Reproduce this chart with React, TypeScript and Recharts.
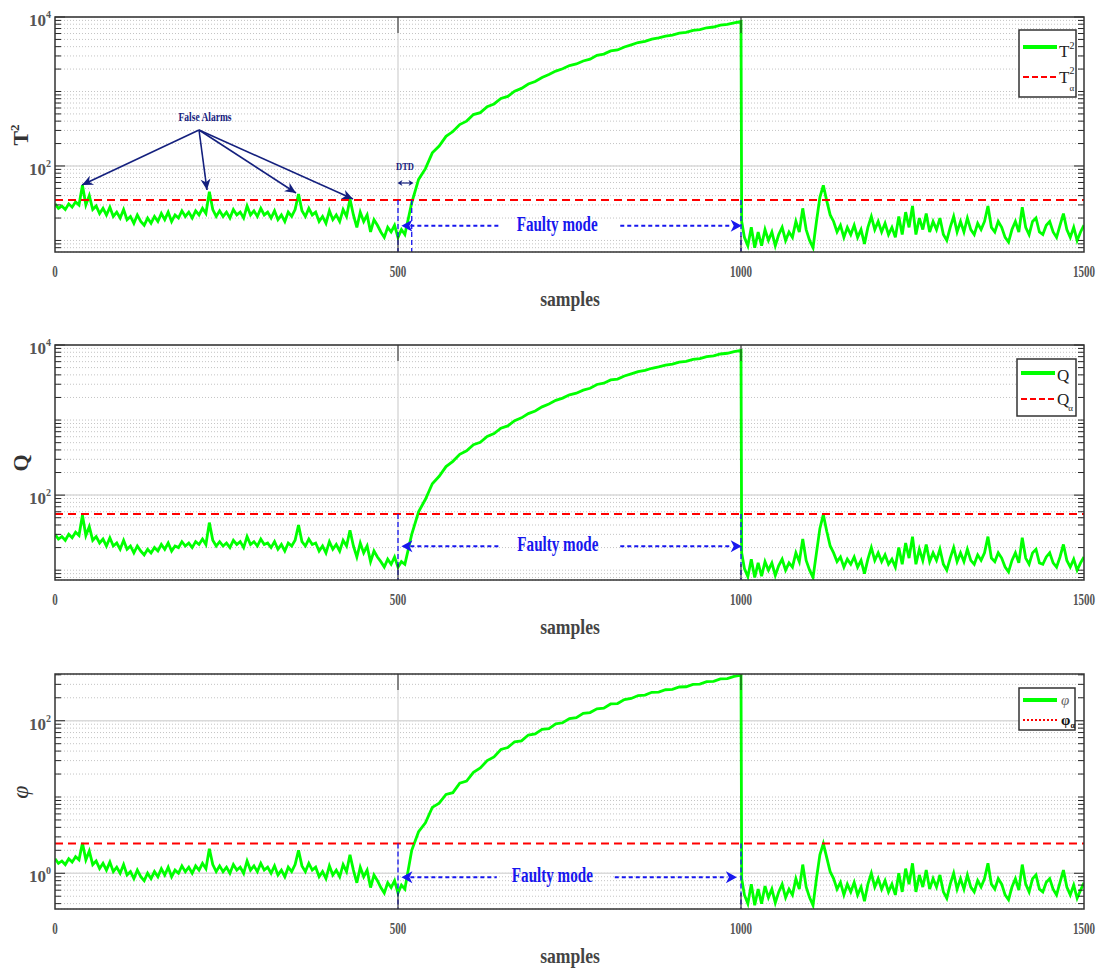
import React from "react"
import { LineChart, Line, XAxis, YAxis, CartesianGrid, ReferenceLine, ReferenceDot } from "recharts"

// every 5th sample in the quiet parts, every 10th on the fault ramp, plus the step right after the fault is removed
const samples = [
  0, 5, 10, 15, 20, 25, 30, 35, 40, 45,
  50, 55, 60, 65, 70, 75, 80, 85, 90, 95,
  100, 105, 110, 115, 120, 125, 130, 135, 140, 145,
  150, 155, 160, 165, 170, 175, 180, 185, 190, 195,
  200, 205, 210, 215, 220, 225, 230, 235, 240, 245,
  250, 255, 260, 265, 270, 275, 280, 285, 290, 295,
  300, 305, 310, 315, 320, 325, 330, 335, 340, 345,
  350, 355, 360, 365, 370, 375, 380, 385, 390, 395,
  400, 405, 410, 415, 420, 425, 430, 435, 440, 445,
  450, 455, 460, 465, 470, 475, 480, 485, 490, 495,
  500, 505, 510,
  520, 530, 540, 550, 560, 570, 580, 590, 600, 610,
  620, 630, 640, 650, 660, 670, 680, 690, 700, 710,
  720, 730, 740, 750, 760, 770, 780, 790, 800, 810,
  820, 830, 840, 850, 860, 870, 880, 890, 900, 910,
  920, 930, 940, 950, 960, 970, 980, 990, 1000,
  1001,
  1005, 1010, 1015, 1020, 1025, 1030, 1035, 1040, 1045, 1050,
  1055, 1060, 1065, 1070, 1075, 1080, 1085, 1090, 1095, 1100,
  1105, 1110, 1115, 1120, 1125, 1130, 1135, 1140, 1145, 1150,
  1155, 1160, 1165, 1170, 1175, 1180, 1185, 1190, 1195, 1200,
  1205, 1210, 1215, 1220, 1225, 1230, 1235, 1240, 1245, 1250,
  1255, 1260, 1265, 1270, 1275, 1280, 1285, 1290, 1295, 1300,
  1305, 1310, 1315, 1320, 1325, 1330, 1335, 1340, 1345, 1350,
  1355, 1360, 1365, 1370, 1375, 1380, 1385, 1390, 1395, 1400,
  1405, 1410, 1415, 1420, 1425, 1430, 1435, 1440, 1445, 1450,
  1455, 1460, 1465, 1470, 1475, 1480, 1485, 1490, 1495, 1500,
]

const t2Values = [
  31, 27, 29, 26, 31, 28, 33, 30, 55, 30,
  40, 26, 29, 23, 27, 22, 28, 21, 24, 20,
  26, 19, 21, 17, 22, 18, 16, 20, 17, 21,
  18, 23, 19, 24, 18, 22, 20, 25, 21, 24,
  20, 25, 22, 27, 23, 45, 26, 21, 25, 21,
  24, 20, 26, 22, 24, 20, 29, 22, 25, 21,
  27, 22, 24, 20, 25, 19, 22, 18, 24, 21,
  26, 42, 25, 21, 27, 22, 24, 18, 21, 17,
  25, 19, 22, 18, 26, 21, 36, 22, 15, 24,
  18, 22, 13, 19, 16, 13, 11, 15, 13, 16,
  11, 14, 12,
  32, 66, 92, 150, 185, 250, 290, 360, 400, 490,
  520, 625, 680, 805, 860, 1010, 1100, 1260, 1360, 1540,
  1690, 1880, 2020, 2230, 2340, 2570, 2720, 3060, 3180, 3510,
  3610, 3960, 4230, 4540, 4710, 5030, 5230, 5530, 5710, 6060,
  6200, 6610, 6750, 7170, 7340, 7770, 7940, 8360, 8700,
  18,
  11, 8.5, 15, 8, 13, 8.5, 14, 10, 13, 8.5,
  12, 15, 10, 13, 11, 18, 13, 27, 14, 10,
  8, 18, 38, 55, 34, 22, 18, 13, 16, 11,
  15, 12, 16, 11, 14, 9, 15, 21, 14, 18,
  13, 17, 12, 15, 11, 21, 12, 24, 15, 29,
  12, 20, 14, 23, 13, 18, 14, 20, 12, 10,
  15, 21, 13, 18, 13, 20, 14, 12, 17, 14,
  18, 29, 15, 13, 18, 15, 11, 9.5, 14, 18,
  13, 28, 15, 12, 18, 20, 13, 12, 16, 18,
  13, 11, 16, 23, 14, 11, 15, 10, 13, 16,
]

const qValues = [
  30, 26, 28, 25, 30, 27, 32, 29, 54, 29,
  38, 25, 28, 23, 26, 21, 27, 21, 23, 19,
  25, 19, 21, 17, 21, 18, 16, 19, 17, 20,
  18, 22, 19, 23, 18, 21, 20, 24, 21, 23,
  20, 24, 22, 26, 22, 43, 25, 21, 24, 21,
  23, 20, 25, 22, 24, 20, 28, 22, 24, 21,
  26, 22, 23, 20, 24, 19, 22, 18, 23, 21,
  25, 40, 24, 21, 26, 22, 23, 18, 21, 17,
  24, 19, 22, 18, 25, 21, 34, 21, 15, 23,
  17, 21, 13, 18, 15, 13, 11, 14, 12, 15,
  11, 13, 12,
  30, 60, 88, 142, 178, 240, 282, 350, 390, 470,
  505, 605, 660, 780, 835, 980, 1070, 1220, 1320, 1500,
  1640, 1830, 1960, 2170, 2280, 2500, 2650, 2980, 3100, 3420,
  3520, 3860, 4120, 4420, 4590, 4900, 5100, 5400, 5570, 5910,
  6050, 6450, 6590, 7000, 7170, 7590, 7760, 8170, 8450,
  17,
  10.5, 8.2, 14, 8, 12.5, 8.3, 13, 10, 12.5, 8.5,
  11.5, 14, 10, 12.5, 11, 17, 13, 26, 13.5, 10,
  8, 17, 36, 55, 33, 21, 17, 13, 15, 11,
  14, 12, 15, 11, 13.5, 9, 14, 20, 13.5, 17,
  13, 16, 12, 14, 11, 20, 12, 23, 14.5, 28,
  12, 19, 13.5, 22, 13, 17, 13.5, 19, 12, 10,
  14.5, 20, 13, 17, 13, 19, 13.5, 12, 16, 13.5,
  17, 28, 14.5, 13, 17, 14.5, 11, 9.5, 13.5, 17,
  12.5, 27, 14.5, 12, 17, 19, 12.5, 12, 15, 17,
  12.5, 11, 15, 22, 13.5, 11, 14, 10, 12.5, 15,
]

const phiValues = [
  1.55, 1.35, 1.45, 1.3, 1.55, 1.4, 1.65, 1.5, 2.5, 1.5,
  1.95, 1.3, 1.45, 1.15, 1.35, 1.1, 1.4, 1.05, 1.2, 1.0,
  1.3, 0.95, 1.05, 0.85, 1.1, 0.9, 0.8, 1.0, 0.85, 1.05,
  0.9, 1.15, 0.95, 1.2, 0.9, 1.1, 1.0, 1.25, 1.05, 1.2,
  1.0, 1.25, 1.1, 1.35, 1.15, 2.1, 1.3, 1.05, 1.25, 1.05,
  1.2, 1.0, 1.3, 1.1, 1.2, 1.0, 1.45, 1.1, 1.25, 1.05,
  1.35, 1.1, 1.2, 1.0, 1.25, 0.95, 1.1, 0.9, 1.2, 1.05,
  1.3, 2.0, 1.25, 1.05, 1.35, 1.1, 1.2, 0.9, 1.05, 0.85,
  1.25, 0.95, 1.1, 0.9, 1.3, 1.05, 1.75, 1.1, 0.75, 1.2,
  0.9, 1.1, 0.65, 0.95, 0.8, 0.65, 0.55, 0.75, 0.65, 0.8,
  0.55, 0.7, 0.62,
  2.0, 3.5, 4.6, 7.3, 8.3, 10.8, 11.4, 15.2, 16.2, 21,
  24, 30, 33.5, 42, 44.5, 53, 54.5, 65, 67, 77,
  79, 91, 94, 107, 110, 125, 128, 143, 146, 166,
  168, 189, 196, 214, 217, 236, 237, 255, 258, 277,
  279, 300, 302, 325, 329, 353, 357, 382, 395,
  0.85,
  0.52, 0.4, 0.72, 0.38, 0.62, 0.4, 0.68, 0.48, 0.62, 0.41,
  0.57, 0.72, 0.48, 0.62, 0.52, 0.85, 0.62, 1.3, 0.66, 0.48,
  0.38, 0.85, 1.75, 2.45, 1.6, 1.05, 0.85, 0.62, 0.76, 0.52,
  0.72, 0.57, 0.76, 0.52, 0.66, 0.43, 0.72, 1.0, 0.66, 0.85,
  0.62, 0.8, 0.57, 0.72, 0.52, 1.0, 0.57, 1.15, 0.72, 1.35,
  0.57, 0.95, 0.66, 1.1, 0.62, 0.85, 0.66, 0.95, 0.57, 0.47,
  0.72, 1.0, 0.62, 0.85, 0.62, 0.95, 0.66, 0.57, 0.8, 0.66,
  0.85, 1.35, 0.72, 0.62, 0.85, 0.72, 0.52, 0.45, 0.66, 0.85,
  0.6, 1.3, 0.72, 0.57, 0.85, 0.95, 0.62, 0.57, 0.76, 0.85,
  0.62, 0.52, 0.76, 1.1, 0.66, 0.52, 0.7, 0.47, 0.6, 0.75,
]

const t2Limit = 35
const qLimit = 56
const phiLimit = 2.45

const xTicks = [0, 500, 1000, 1500]
const highMajor = [100, 10000]
const highTicks = [
  8, 9, 10, 20, 30, 40, 50, 60, 70, 80, 90,
  100, 200, 300, 400, 500, 600, 700, 800, 900,
  1000, 2000, 3000, 4000, 5000, 6000, 7000, 8000, 9000, 10000,
]
const lowMajor = [1, 100]
const lowTicks = [
  0.4, 0.5, 0.6, 0.7, 0.8, 0.9,
  1, 2, 3, 4, 5, 6, 7, 8, 9,
  10, 20, 30, 40, 50, 60, 70, 80, 90,
  100, 200, 300, 400,
]

const chartData = samples.map((s, i) => ({
  sample: s,
  t2: t2Values[i],
  q: qValues[i],
  phi: phiValues[i],
}))

const W = 1098
const H = 329
const PLOT_LEFT = 55
const PLOT_RIGHT = 1084
const PLOT_TOP = 17
const PLOT_BOTTOM = 252
const SERIF = '"Liberation Serif", "Times New Roman", serif'
const BLUE = "#1717ee"
const NAVY = "#14207e"

// the original figure is squeezed sideways, so texts get a horizontal scale
function SqText({ x, y, sx, children, ...rest }: any) {
  return (
    <text transform={`translate(${x} ${y}) scale(${sx} 1)`} x={0} y={0} fontFamily={SERIF} {...rest}>
      {children}
    </text>
  )
}

function arrowHead(x1: number, y1: number, x2: number, y2: number, size = 11, half = 5) {
  const a = Math.atan2(y2 - y1, x2 - x1)
  const c = Math.cos(a)
  const s = Math.sin(a)
  const bx = x2 - size * c
  const by = y2 - size * s
  const nx = x2 - size * 0.7 * c
  const ny = y2 - size * 0.7 * s
  return `M${x2},${y2} L${bx - half * s},${by + half * c} L${nx},${ny} L${bx + half * s},${by - half * c} Z`
}

interface PanelProps {
  top: number
  dataKey: string
  limit: number
  domain: [number, number]
  ticks: number[]
  major: number[]
  arrowY: number
  leftEnd: number
  rightStart: number
  rightTip: number
  textAt: number
  dtd?: boolean
  overlay: React.ReactNode
}

function Panel({ top, dataKey, limit, domain, ticks, major, arrowY, leftEnd, rightStart, rightTip, textAt, dtd, overlay }: PanelProps) {
  const yTick = (p: any) => {
    const v = p.payload.value
    const isMajor = major.includes(v)
    const len = isMajor ? 10 : 6
    const exp = Math.round(Math.log10(v))
    return (
      <g>
        <line x1={PLOT_LEFT} x2={PLOT_LEFT + len} y1={p.y} y2={p.y} stroke="#262626" />
        <line x1={PLOT_RIGHT - len} x2={PLOT_RIGHT} y1={p.y} y2={p.y} stroke="#262626" />
        {isMajor && (
          <text x={PLOT_LEFT - 4} y={p.y + 9} textAnchor="end" fontFamily={SERIF} fontWeight="bold" fontSize={17} fill="#555">
            10<tspan dy={-8} fontSize={10}>{exp}</tspan>
          </text>
        )}
      </g>
    )
  }

  const xTick = (p: any) => {
    const v = p.payload.value
    const inner = v > 0 && v < 1500
    return (
      <g>
        {inner && <line x1={p.x} x2={p.x} y1={PLOT_TOP} y2={PLOT_TOP + 16} stroke="#262626" />}
        {inner && <line x1={p.x} x2={p.x} y1={PLOT_BOTTOM - 16} y2={PLOT_BOTTOM} stroke="#262626" />}
        <SqText x={p.x} y={PLOT_BOTTOM + 25} sx={0.65} textAnchor="middle" fontWeight="bold" fontSize={17} fill="#555">
          {String(v)}
        </SqText>
      </g>
    )
  }

  const leftArrow = (p: any) => (
    <path d={`M${p.cx},${p.cy} L${p.cx + 11},${p.cy - 6} L${p.cx + 8},${p.cy} L${p.cx + 11},${p.cy + 6} Z`} fill={BLUE} />
  )
  const rightArrow = (p: any) => (
    <path d={`M${p.cx},${p.cy} L${p.cx - 11},${p.cy - 6} L${p.cx - 8},${p.cy} L${p.cx - 11},${p.cy + 6} Z`} fill={BLUE} />
  )
  const faultyText = (p: any) => (
    <SqText x={p.cx} y={p.cy + 5} sx={0.72} textAnchor="middle" fontWeight="bold" fontSize={21} fill={BLUE}>
      Faulty mode
    </SqText>
  )

  const bottom = domain[0]

  return (
    <div style={{ position: "absolute", left: 0, top, width: W, height: H }}>
      <LineChart width={W} height={H} data={chartData} margin={{ top: PLOT_TOP, right: W - PLOT_RIGHT, bottom: 0, left: 0 }}>
        <CartesianGrid vertical={false} stroke="#c4c4c4" strokeDasharray="1 2" />
        <XAxis
          dataKey="sample"
          type="number"
          domain={[0, 1500]}
          ticks={xTicks}
          interval={0}
          tick={xTick}
          tickLine={false}
          axisLine={false}
          height={H - PLOT_BOTTOM}
          allowDataOverflow
        />
        <YAxis
          scale="log"
          type="number"
          domain={domain}
          ticks={ticks}
          interval={0}
          tick={yTick}
          tickLine={false}
          axisLine={false}
          width={PLOT_LEFT}
          allowDataOverflow
        />
        {major.map((m) => (
          <ReferenceLine key={`g${m}`} y={m} stroke="#dadada" strokeWidth={1.5} />
        ))}
        <ReferenceLine x={500} stroke="#dadada" strokeWidth={1.5} />
        <ReferenceLine x={1000} stroke="#dadada" strokeWidth={1.5} />
        <Line type="linear" dataKey={dataKey} stroke="#00ff00" strokeWidth={2.8} dot={false} isAnimationActive={false} />
        <ReferenceLine y={limit} stroke="#ff0000" strokeWidth={2} strokeDasharray="8 5" />
        <ReferenceLine segment={[{ x: 500, y: limit }, { x: 500, y: bottom }]} stroke={BLUE} strokeWidth={1.3} strokeDasharray="5 3" />
        {dtd && (
          <ReferenceLine segment={[{ x: 520, y: limit }, { x: 520, y: bottom }]} stroke={BLUE} strokeWidth={1.3} strokeDasharray="5 3" />
        )}
        <ReferenceLine segment={[{ x: 1000, y: limit }, { x: 1000, y: bottom }]} stroke={BLUE} strokeWidth={1.3} strokeDasharray="5 3" />
        <ReferenceLine segment={[{ x: 518, y: arrowY }, { x: leftEnd, y: arrowY }]} stroke={BLUE} strokeWidth={2} strokeDasharray="4 3" />
        <ReferenceLine segment={[{ x: rightStart, y: arrowY }, { x: rightTip - 14, y: arrowY }]} stroke={BLUE} strokeWidth={2} strokeDasharray="4 3" />
        <ReferenceDot x={505} y={arrowY} r={0} shape={leftArrow} />
        <ReferenceDot x={rightTip} y={arrowY} r={0} shape={rightArrow} />
        <ReferenceDot x={textAt} y={arrowY} r={0} shape={faultyText} />
      </LineChart>
      <svg width={W} height={H} style={{ position: "absolute", left: 0, top: 0, pointerEvents: "none" }}>
        <rect
          x={PLOT_LEFT}
          y={PLOT_TOP}
          width={PLOT_RIGHT - PLOT_LEFT}
          height={PLOT_BOTTOM - PLOT_TOP}
          fill="none"
          stroke="#333"
          strokeWidth={1.5}
        />
        <SqText x={570} y={PLOT_BOTTOM + 54} sx={0.8} textAnchor="middle" fontWeight="bold" fontSize={22} fill="#444">
          samples
        </SqText>
        {overlay}
      </svg>
    </div>
  )
}

function FalseAlarms() {
  const ox = 199
  const oy = 130
  const tips = [
    [82, 185],
    [207, 190],
    [296, 193],
    [353, 199],
  ]
  return (
    <g>
      <SqText x={205} y={121} sx={0.73} textAnchor="middle" fontWeight="bold" fontSize={13} fill={NAVY}>
        False Alarms
      </SqText>
      {tips.map(([tx, ty], i) => (
        <g key={i}>
          <line x1={ox} y1={oy} x2={tx} y2={ty} stroke={NAVY} strokeWidth={1.6} />
          <path d={arrowHead(ox, oy, tx, ty)} fill={NAVY} />
        </g>
      ))}
      <SqText x={405} y={170} sx={0.77} textAnchor="middle" fontWeight="bold" fontSize={11} fill={NAVY}>
        DTD
      </SqText>
      <line x1={400} y1={183} x2={411} y2={183} stroke={NAVY} strokeWidth={1.2} />
      <path d={arrowHead(411, 183, 397.5, 183, 5, 3)} fill={NAVY} />
      <path d={arrowHead(398, 183, 413.5, 183, 5, 3)} fill={NAVY} />
    </g>
  )
}

function YTitle({ children }: { children: React.ReactNode }) {
  return (
    <text
      x={28}
      y={135}
      transform="rotate(-90 28 135)"
      textAnchor="middle"
      fontFamily={SERIF}
      fontWeight="bold"
      fontSize={22}
      fill="#333"
    >
      {children}
    </text>
  )
}

function LegendBox({ x, y, w, h, greenY, redY, redDash, first, second }: any) {
  return (
    <g>
      <rect x={x} y={y} width={w} height={h} fill="#fff" stroke="#333" strokeWidth={1.5} />
      <line x1={x + 4} x2={x + 38} y1={greenY} y2={greenY} stroke="#00ff00" strokeWidth={4} />
      <line x1={x + 4} x2={x + 38} y1={redY} y2={redY} stroke="#ff0000" strokeWidth={2} strokeDasharray={redDash} />
      {first}
      {second}
    </g>
  )
}

export default function App() {
  return (
    <div style={{ position: "absolute", left: 0, top: 0, width: 1098, height: 970, background: "#fff" }}>
      <Panel
        top={0}
        dataKey="t2"
        limit={t2Limit}
        domain={[7, 10000]}
        ticks={highTicks}
        major={highMajor}
        arrowY={15.8}
        leftEnd={648}
        rightStart={824}
        rightTip={1001}
        textAt={732}
        dtd
        overlay={
          <g>
            <YTitle>
              T<tspan dy={-9} fontSize={13}>2</tspan>
            </YTitle>
            <FalseAlarms />
            <LegendBox
              x={1019}
              y={30}
              w={57}
              h={67}
              greenY={47}
              redY={77}
              redDash="6 3"
              first={
                <text x={1059} y={57} fontFamily={SERIF} fontSize={17} fill="#222">
                  T<tspan dy={-8} fontSize={10}>2</tspan>
                </text>
              }
              second={
                <text x={1059} y={83} fontFamily={SERIF} fontSize={17} fill="#222">
                  T<tspan dy={-9} fontSize={10}>2</tspan>
                  <tspan dx={-5} dy={17} fontSize={9}>α</tspan>
                </text>
              }
            />
          </g>
        }
      />
      <Panel
        top={328}
        dataKey="q"
        limit={qLimit}
        domain={[7.4, 10000]}
        ticks={highTicks}
        major={highMajor}
        arrowY={20.9}
        leftEnd={648}
        rightStart={824}
        rightTip={1001}
        textAt={733}
        overlay={
          <g>
            <YTitle>Q</YTitle>
            <LegendBox
              x={1017}
              y={31}
              w={59}
              h={57}
              greenY={45}
              redY={71}
              redDash="6 3"
              first={
                <text x={1057} y={53} fontFamily={SERIF} fontSize={17} fill="#222">
                  Q
                </text>
              }
              second={
                <text x={1057} y={77} fontFamily={SERIF} fontSize={17} fill="#222">
                  Q<tspan dx={-1} dy={6} fontSize={9}>α</tspan>
                </text>
              }
            />
          </g>
        }
      />
      <Panel
        top={657}
        dataKey="phi"
        limit={phiLimit}
        domain={[0.34, 410]}
        ticks={lowTicks}
        major={lowMajor}
        arrowY={0.89}
        leftEnd={644}
        rightStart={816}
        rightTip={994}
        textAt={725}
        overlay={
          <g>
            <text
              x={28}
              y={135}
              transform="rotate(-90 28 135)"
              textAnchor="middle"
              fontFamily={SERIF}
              fontStyle="italic"
              fontSize={24}
              fill="#333"
            >
              φ
            </text>
            <LegendBox
              x={1019}
              y={31}
              w={56}
              h={42}
              greenY={43}
              redY={63}
              redDash="2 2"
              first={
                <text x={1061} y={48} fontFamily={SERIF} fontStyle="italic" fontSize={15} fill="#666">
                  φ
                </text>
              }
              second={
                <text x={1061} y={68} fontFamily={SERIF} fontWeight="bold" fontSize={15} fill="#111">
                  φ<tspan dy={3} fontSize={8}>α</tspan>
                </text>
              }
            />
          </g>
        }
      />
    </div>
  )
}
